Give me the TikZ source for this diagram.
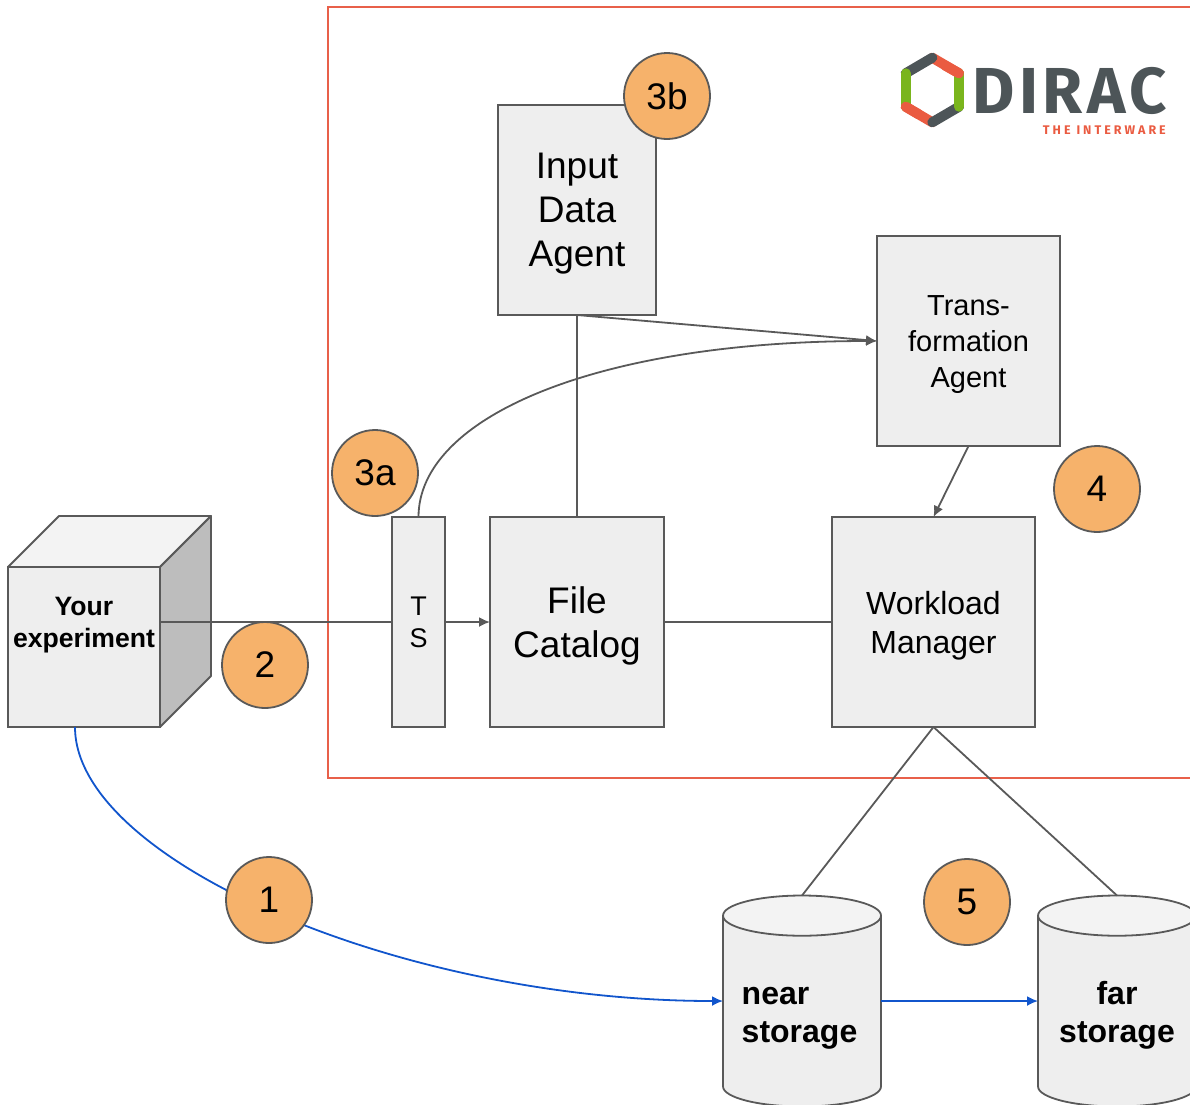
\documentclass[tikz,border=0pt]{standalone}
\usepackage{fontspec}
\setmainfont{Liberation Sans}
\newfontfamily\logofont[LetterSpace=7]{Fira Sans}
\newfontfamily\subfont[LetterSpace=24]{Fira Sans}
\usetikzlibrary{arrows.meta,shapes.geometric}

\definecolor{linegrey}{HTML}{595959}
\definecolor{boxgrey}{HTML}{EEEEEE}
\definecolor{sidegrey}{HTML}{BDBDBD}
\definecolor{topgrey}{HTML}{F3F3F3}
\definecolor{badgeorange}{HTML}{F6B26B}
\definecolor{flowblue}{HTML}{1155CC}
\definecolor{framered}{HTML}{E8604A}
\definecolor{logodark}{HTML}{4D5558}
\definecolor{logored}{HTML}{EA5B41}
\definecolor{logogreen}{HTML}{7AB51D}

\tikzset{
    conn/.style={draw=linegrey, line width=1.8pt},
    arrowconn/.style={conn, -{Latex[length=11pt,width=10pt]}},
    flow/.style={draw=flowblue, line width=1.8pt, -{Latex[length=11pt,width=10pt]}},
    box/.style={rectangle, draw=linegrey, fill=boxgrey, line width=1.8pt, inner sep=0pt, outer sep=0pt},
    boxtext/.style={align=center, inner sep=0pt, yshift=-4pt},
    badge/.style={circle, draw=linegrey, fill=badgeorange, line width=1.8pt, minimum size=86pt, inner sep=0pt,
        font=\fontsize{37}{44}\selectfont},
    store/.style={cylinder, shape border rotate=90, aspect=0.348, draw=linegrey, line width=1.8pt, inner sep=0pt,
        outer sep=0pt, minimum width=158pt, minimum height=211pt, cylinder uses custom fill,
        cylinder body fill=boxgrey, cylinder end fill=topgrey, anchor=shape center,
        font=\fontsize{32}{38}\selectfont\bfseries},
    storetext/.style={align=left, inner sep=0pt, font=\fontsize{32}{38}\selectfont\bfseries},
    hexpart/.style={line width=10pt, line cap=round},
}

\begin{document}
\begin{tikzpicture}[x=1pt, y=-1pt]
    \useasboundingbox (0,0) rectangle (1190,1104);

    \draw[framered, line width=1.8pt] (328,7) rectangle (1210,778);

    % cube
    \path[draw=linegrey, fill=topgrey, line width=1.8pt, line join=round] (8,567) -- (59,516) -- (211,516) -- (160,567) -- cycle;
    \path[draw=linegrey, fill=sidegrey, line width=1.8pt, line join=round] (160,567) -- (211,516) -- (211,676) -- (160,727) -- cycle;
    \node[box, minimum width=152pt, minimum height=160pt] (exp) at (84,647) {};
    \node[align=center, inner sep=0pt, font=\fontsize{26.6}{32}\selectfont\bfseries] (exptext) at (84,625) {Your\\experiment};
    \coordinate (expout) at (160,622);
    \coordinate (expdown) at (75,727);

    \node[box, minimum width=53pt, minimum height=210pt,
        label={[boxtext, yshift=4pt, font=\fontsize{27}{32}\selectfont]center:T\\S}] (ts) at (418.5,622) {};
    \node[box, minimum width=174pt, minimum height=210pt,
        label={[boxtext, font=\fontsize{37}{44}\selectfont]center:File\\Catalog}] (catalog) at (577,622) {};
    \node[box, minimum width=203pt, minimum height=210pt,
        label={[boxtext, font=\fontsize{32}{39}\selectfont]center:Workload\\Manager}] (wms) at (933.5,622) {};
    \node[box, minimum width=158pt, minimum height=210pt,
        label={[boxtext, font=\fontsize{37}{44}\selectfont]center:Input\\Data\\Agent}] (input) at (577,210) {};
    \node[box, minimum width=183pt, minimum height=210pt,
        label={[boxtext, font=\fontsize{29}{36}\selectfont]center:Trans-\\formation\\Agent}] (trans) at (968.5,341) {};

    \node[store] (near) at (802,1001) {\phantom{storage}};
    \node[store] (far) at (1117,1001) {\phantom{storage}};
    \node[storetext] (neartext) at (799.5,1018) {near\\storage};
    \node[storetext, align=center] (fartext) at (1117,1015) {far\\storage};
    \coordinate (nearin) at (near.west |- near.shape center);
    \coordinate (nearout) at (near.east |- near.shape center);
    \coordinate (farin) at (far.west |- far.shape center);

    \draw[conn] (expout) -- (ts.west);
    \draw[arrowconn] (ts.east) -- (catalog.west);
    \draw[conn] (catalog.east) -- (wms.west);
    \draw[conn] (input.south) -- (catalog.north);
    \draw[arrowconn] (input.south) -- (trans.west);
    \draw[arrowconn] (ts.north) .. controls +(0,-100) and +(-280,0) .. (trans.west);
    \draw[arrowconn] (trans.south) -- (wms.north);
    \draw[conn] (wms.south) -- (near.top);
    \draw[conn] (wms.south) -- (far.top);
    \draw[flow] (expdown) .. controls +(0,133) and +(-323,0) .. (nearin);
    \draw[flow] (nearout) -- (farin);

    \node[badge] (b1) at (269,900) {1};
    \node[badge] (b2) at (265,665) {2};
    \node[badge] (b3a) at (375,473) {3a};
    \node[badge] (b3b) at (667,96) {3b};
    \node[badge] (b4) at (1097,489) {4};
    \node[badge] (b5) at (967,902) {5};

    % logo
    \draw[hexpart, logored] (932.3,57.7) -- (959,73.3) (932.3,122.3) -- (905.7,106.7);
    \draw[hexpart, logodark] (905.7,73.3) -- (932.3,57.7) (959,106.7) -- (932.3,122.3);
    \draw[hexpart, logogreen] (959,73.3) -- (959,106.7) (905.7,106.7) -- (905.7,73.3);
    \draw[hexpart, logored] (945,65.5) -- (959,73.3) (919,114.5) -- (905.7,106.7);
    \node[anchor=base west, inner sep=0pt, text=logodark, font=\fontsize{65}{65}\logofont\bfseries\selectfont] (dirac) at (972,113) {DIRAC};
    \node[anchor=base east, inner sep=0pt, text=logored, font=\fontsize{12.5}{14}\subfont\bfseries\selectfont] (tagline) at (1166,134) {THE INTERWARE};
\end{tikzpicture}
\end{document}
